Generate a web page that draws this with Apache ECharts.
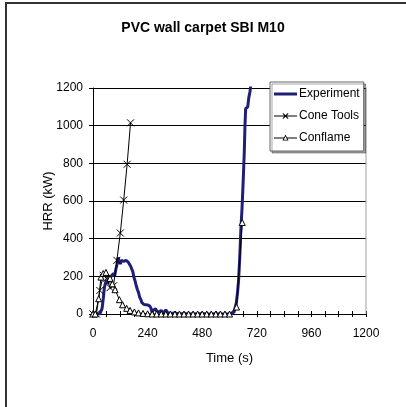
<!DOCTYPE html>
<html><head><meta charset="utf-8">
<script src="https://cdn.jsdelivr.net/npm/echarts@6/dist/echarts.min.js"></script>
<style>html,body{margin:0;padding:0;background:#fff}#c{width:406px;height:407px}</style>
</head><body><div id="c"></div>
<script>
var title = 'PVC wall carpet SBI M10';
var xTicks = [0, 240, 480, 720, 960, 1200];
var yTicks = [0, 200, 400, 600, 800, 1000, 1200];

var expT = [0,10,20,30,35,40,45,50,55,60,65,70,75,80,85,90,95,100,105,110,115,120,125,130,135,140,145,150,155,160,165,170,175,180,185,190,195,200,205,210,215,220,225,230,240,250,255,260,265,270,275,280,285,290,300,310,320,330,340,360,380,400,420,440,460,480,500,520,540,560,580,600,610,620,630,635,640,645,650,655,660,665,668,671,675,680,685,690,695,700];
var expV = [0,0,0,0,5,30,80,140,165,180,160,185,195,200,190,215,200,235,260,300,305,265,285,290,280,275,285,280,275,265,255,245,225,195,175,150,130,115,90,78,60,55,50,50,48,42,30,8,20,10,28,15,22,10,18,5,22,5,3,5,0,3,0,2,0,3,0,0,2,0,0,0,2,10,60,110,180,300,450,560,700,860,1000,1090,1100,1100,1150,1180,1230,1280];

var coneT = [0,15,30,45,60,75,90,105,120,135,150,165];
var coneV = [0,0,125,205,190,140,150,285,430,605,795,1015];

var conflT = [0,10,25,35,45,57,75,85,97,116,130,148,163,182,200,220,240,260,280,300,320,340,360,380,400,420,440,460,480,500,520,540,560,580,600,631,656];
var conflV = [0,0,81,196,215,221,189,160,129,76,49,30,19,11,6,3,1,0,0,0,0,0,0,0,0,0,0,0,0,0,0,0,0,0,0,37,486];

function pairs(t, v) { return t.map(function (x, i) { return [x, v[i]]; }); }

var font = 'Liberation Sans, Arial, sans-serif';
var iconExp = 'path://M0,0M23,14M0,5.5L23,5.5L23,8.5L0,8.5Z';
var iconCone = 'path://M0,0M23,14M0,6.5L23,6.5L23,7.5L0,7.5Z' +
  'M8.5,4.7L9.2,4L14.5,9.3L13.8,10Z' +
  'M14.5,4.7L9.2,10L8.5,9.3L13.8,4Z';
var iconConfl = 'path://M0,0M23,14M0,6.5L10,6.5L10,7.5L0,7.5Z' +
  'M13,6.5L23,6.5L23,7.5L13,7.5Z' +
  'M11.5,3.5L14.5,9.5L8.5,9.5Z' +
  'M11.5,5.3L9.8,8.7L13.2,8.7Z';

var chart = echarts.init(document.getElementById('c'), null, {renderer: 'canvas'});
chart.setOption({
  animation: false,
  backgroundColor: '#fff',
  title: {text: title, left: 'center', top: 16, textStyle: {fontFamily: font, fontSize: 14, fontWeight: 'bold', color: '#000'}},
  graphic: [
    {type: 'rect', shape: {x: 6, y: 3, width: 420, height: 420}, style: {fill: 'none', stroke: '#333', lineWidth: 2}, z: 100},
    {type: 'line', shape: {x1: 366, y1: 88, x2: 366, y2: 314}, style: {stroke: '#a0a0a0', lineWidth: 1}, z: 1}
  ],
  grid: {left: 93, right: 40, top: 88, bottom: 93, containLabel: false},
  legend: {
    orient: 'vertical', left: 270, top: 82, width: 94,
    padding: [5, 4, 6, 4], itemGap: 8, itemWidth: 23, itemHeight: 14,
    backgroundColor: '#fff', borderColor: '#666', borderWidth: 1,
    shadowColor: 'rgba(0,0,0,0.35)', shadowOffsetX: 2, shadowOffsetY: 2, shadowBlur: 0,
    textStyle: {fontFamily: font, fontSize: 12, color: '#000', padding: [0, 0, 0, -3]},
    data: [
      {name: 'Experiment', icon: iconExp, itemStyle: {color: '#1f1f78', borderWidth: 0}},
      {name: 'Cone Tools', icon: iconCone, itemStyle: {color: '#000', borderWidth: 0}},
      {name: 'Conflame', icon: iconConfl, itemStyle: {color: '#000', borderWidth: 0}}
    ]
  },
  xAxis: [{
    type: 'value', min: 0, max: 1200, interval: 60,
    name: 'Time (s)', nameLocation: 'middle', nameGap: 44, nameMoveOverlap: false,
    nameTextStyle: {fontFamily: font, fontSize: 13, color: '#000', verticalAlign: 'middle'},
    axisLine: {show: true, onZero: false, lineStyle: {color: '#000', width: 1}},
    axisTick: {show: true, length: 3, lineStyle: {color: '#000'}},
    axisLabel: {fontFamily: font, fontSize: 12, color: '#000', margin: 14,
      formatter: function (v) { return xTicks.indexOf(v) >= 0 ? String(v) : ''; }},
    splitLine: {show: false}
  }, {
    type: 'value', min: 0, max: 1200, interval: 60, position: 'bottom',
    axisLine: {show: false}, axisLabel: {show: false}, splitLine: {show: false},
    axisTick: {show: true, inside: true, length: 3, lineStyle: {color: '#000'}}
  }],
  yAxis: {
    type: 'value', min: 0, max: 1200, interval: 200,
    name: 'HRR (kW)', nameLocation: 'middle', nameGap: 45, nameMoveOverlap: false,
    nameTextStyle: {fontFamily: font, fontSize: 13, color: '#000', verticalAlign: 'middle'},
    axisLine: {show: true, lineStyle: {color: '#000', width: 1}},
    axisTick: {show: true, length: 4, lineStyle: {color: '#000'}},
    axisLabel: {fontFamily: font, fontSize: 12, color: '#000', margin: 10,
      formatter: function (v) { return yTicks.indexOf(v) >= 0 ? String(v) : ''; }},
    splitLine: {show: true, lineStyle: {color: '#000', width: 1}}
  },
  series: [
    {name: 'Experiment', type: 'line', data: pairs(expT, expV), symbol: 'none', clip: true,
      lineStyle: {color: '#1f1f78', width: 3}, itemStyle: {color: '#1f1f78'}, z: 3},
    {name: 'Cone Tools', type: 'line', data: pairs(coneT, coneV), clip: true,
      symbol: 'path://M0,0L10,10M10,0L0,10', symbolSize: 7,
      lineStyle: {color: '#000', width: 1},
      itemStyle: {color: 'none', borderColor: '#000', borderWidth: 1}, z: 4},
    {name: 'Conflame', type: 'line', data: pairs(conflT, conflV), clip: true,
      symbol: 'triangle', symbolSize: 6,
      lineStyle: {color: '#000', width: 1},
      itemStyle: {color: '#fff', borderColor: '#000', borderWidth: 1}, z: 5}
  ]
});
</script>
</body></html>
